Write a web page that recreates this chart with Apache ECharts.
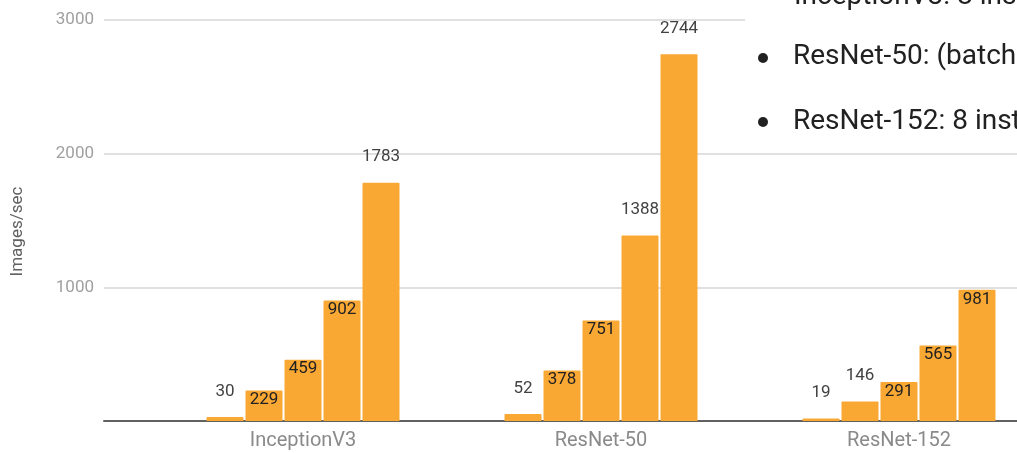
<!DOCTYPE html>
<html>
<head>
<meta charset="utf-8">
<script src="https://cdn.jsdelivr.net/npm/echarts@6/dist/echarts.min.js"></script>
<style>
html,body{margin:0;padding:0;background:#fff;}
#c{width:1017px;height:453px;}
</style>
</head>
<body>
<div id="c"></div>
<script>
const categories = ['InceptionV3', 'ResNet-50', 'ResNet-152'];
const seriesNames = ['Setup 1', 'Setup 2', 'Setup 3', 'Setup 4', 'Setup 5'];
const values1 = [30, 52, 19];
const values2 = [229, 378, 146];
const values3 = [459, 751, 291];
const values4 = [902, 1388, 565];
const values5 = [1783, 2744, 981];
// whether each value label sits inside the bar (true) or above it (false)
const inside1 = [false, false, false];
const inside2 = [true, true, false];
const inside3 = [true, true, true];
const inside4 = [true, false, true];
const inside5 = [false, false, true];
const yTicks = [0, 1000, 2000, 3000];
const noteLines = ['InceptionV3: 8 instances', 'ResNet-50: (batch size 64)', 'ResNet-152: 8 instances'];

const allValues = [values1, values2, values3, values4, values5];
const allInside = [inside1, inside2, inside3, inside4, inside5];
const barColor = '#f9a834';

function makeData(vals, ins) {
  return vals.map((v, i) => ({
    value: v,
    label: ins[i]
      ? { position: 'insideTop', distance: 1, color: '#212121' }
      : { position: 'top', distance: 17, color: '#424242' }
  }));
}

const chart = echarts.init(document.getElementById('c'), null, { renderer: 'canvas' });
const font = 'Roboto, "Noto Sans", sans-serif';

const series = allValues.map((vals, k) => ({
  name: seriesNames[k],
  type: 'bar',
  xAxisIndex: 1,
  yAxisIndex: 1,
  barWidth: 37,
  barGap: '5.4%',
  data: makeData(vals, allInside[k]),
  itemStyle: { color: barColor, borderRadius: [1, 1, 0, 0] },
  label: { show: true, fontSize: 17, fontFamily: font },
  z: 3
}));

chart.setOption({
  animation: false,
  backgroundColor: '#fff',
  grid: [
    { left: 104, right: -10, top: 20, height: 401, outerBoundsMode: 'none', containLabel: false },
    { left: 154, width: 894, top: 20, height: 401, outerBoundsMode: 'none', containLabel: false }
  ],
  xAxis: [
    {
      type: 'value', gridIndex: 0, min: 0, max: 1,
      axisLine: { show: true, lineStyle: { color: '#616161', width: 2 } },
      axisTick: { show: false }, axisLabel: { show: false }, splitLine: { show: false }
    },
    {
      type: 'category', gridIndex: 1, data: categories,
      axisLine: { show: false }, axisTick: { show: false },
      axisLabel: { color: '#8a8a8a', fontSize: 20, fontFamily: font, margin: 10 }
    }
  ],
  yAxis: [
    {
      type: 'value', gridIndex: 0, min: yTicks[0], max: yTicks[yTicks.length - 1], interval: 1000,
      name: 'Images/sec', nameLocation: 'middle', nameGap: 78, nameRotate: 90,
      nameTextStyle: { color: '#616161', fontSize: 17, fontFamily: font, padding: [0, 22, 0, 0] },
      axisLine: { show: false }, axisTick: { show: false },
      axisLabel: {
        color: '#a0a0a0', fontSize: 17, fontFamily: font, margin: 10,
        formatter: v => (v === 0 ? '' : String(v))
      },
      splitLine: { show: true, lineStyle: { color: '#e0e0e0', width: 2 } }
    },
    {
      type: 'value', gridIndex: 1, min: yTicks[0], max: yTicks[yTicks.length - 1], interval: 1000,
      show: false, splitLine: { show: false }
    }
  ],
  series: series,
  graphic: [
    { type: 'rect', left: 745, top: 0, shape: { width: 300, height: 145 }, style: { fill: '#fff' }, z: 10 },
    { type: 'circle', shape: { cx: 763, cy: 58, r: 5 }, style: { fill: '#212121' }, z: 11 },
    { type: 'circle', shape: { cx: 763, cy: 122, r: 5 }, style: { fill: '#212121' }, z: 11 },
    { type: 'text', x: 794, y: -3, style: { text: noteLines[0], font: '28px ' + font, fill: '#212121', textVerticalAlign: 'middle' }, z: 11 },
    { type: 'text', x: 793, y: 57, style: { text: noteLines[1], font: '28px ' + font, fill: '#212121', textVerticalAlign: 'middle' }, z: 11 },
    { type: 'text', x: 793, y: 122, style: { text: noteLines[2], font: '28px ' + font, fill: '#212121', textVerticalAlign: 'middle' }, z: 11 }
  ]
});
</script>
</body>
</html>
